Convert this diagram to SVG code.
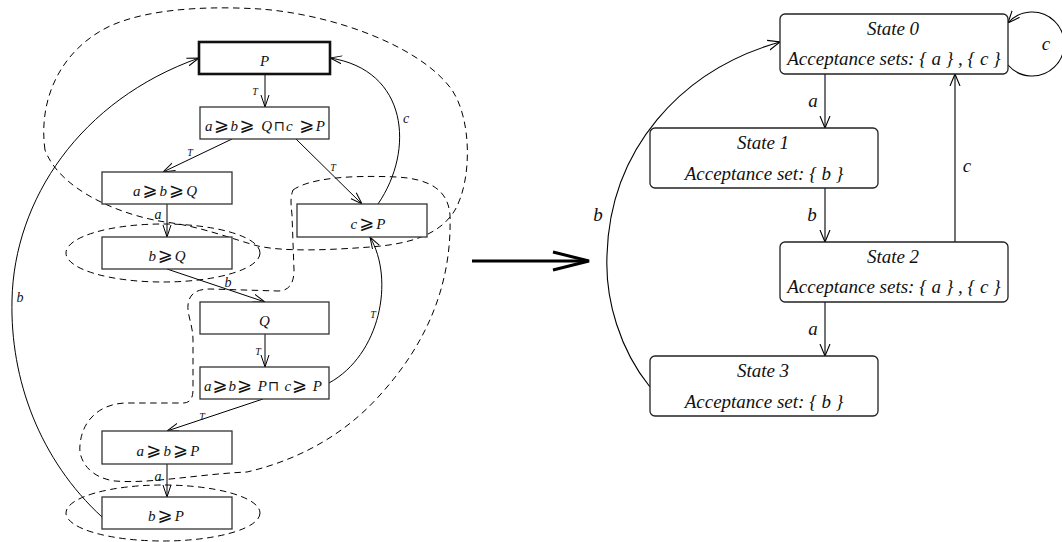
<svg xmlns="http://www.w3.org/2000/svg" width="1062" height="542" viewBox="0 0 1062 542">
<style>
  .bg{fill:#fff}
  .lbox{fill:#fff;stroke:#333;stroke-width:1.3}
  .lbox.start{stroke:#111;stroke-width:2.6}
  .rbox{fill:#fff;stroke:#222;stroke-width:1.3}
  .t{font-family:"Liberation Serif","Times New Roman",serif;font-style:italic;fill:#111}
  .nt{font-size:15px;text-anchor:middle}
  .op{font-family:"DejaVu Sans",sans-serif;font-style:normal;font-size:18px}
  .cap{font-family:"DejaVu Sans",sans-serif;font-style:normal;font-size:14px}
  .lab{font-size:14px;text-anchor:middle}
  .tl{font-size:10px;text-anchor:middle}
  .rt{font-size:19px;text-anchor:middle}
  .edge{fill:none;stroke:#000;stroke-width:1;marker-end:url(#arr)}
  .redge{fill:none;stroke:#000;stroke-width:1.1;marker-end:url(#arrR)}
  .dash{fill:none;stroke:#000;stroke-width:1;stroke-dasharray:6.5 4.5}
</style>
<defs>
  <marker id="arr" viewBox="0 0 12 10" refX="12" refY="5" markerWidth="12" markerHeight="10" markerUnits="userSpaceOnUse" orient="auto">
    <path d="M0,1 L12,5 L0,9" fill="none" stroke="#000" stroke-width="1"/>
  </marker>
  <marker id="arrR" viewBox="0 0 12 12" refX="12" refY="6" markerWidth="12" markerHeight="12" markerUnits="userSpaceOnUse" orient="auto">
    <path d="M0,1 L12,6 L0,11" fill="none" stroke="#000" stroke-width="1.1"/>
  </marker>
</defs>
<rect class="bg" x="0" y="0" width="1062" height="542"/>

<!-- dashed regions -->
<g id="regions">
  <path class="dash" d="M45,150 C38,100 60,50 110,26 C150,8 210,6 260,9 C330,14 420,45 452,90 C472,120 472,180 455,210 C440,235 410,244 370,247 C330,250 285,252 258,246 C235,240 200,226 165,222 C120,215 60,190 45,150 Z"/>
  <path class="dash" d="M293,190 C310,178 350,175 397,177 C430,179 448,190 450,215 C452,280 430,340 380,395 C340,440 290,462 247,472 C200,474 150,484 115,481 C90,478 78,460 80,445 C82,420 100,404 125,403 L183,403 C190,403 193,398 193,390 L193,340 C193,325 187,315 188,305 C189,295 195,289 210,289 L278,291 C290,291 294,282 294,270 L292,215 C291,205 290,198 293,190 Z"/>
  <ellipse class="dash" cx="163" cy="253" rx="97" ry="29"/>
  <ellipse class="dash" cx="163" cy="513" rx="97" ry="28"/>
</g>

<!-- left connectors -->
<g id="left-connectors">
  <path class="edge" d="M265,74 L265,107"/>
  <path class="edge" d="M232,139 L163,172"/>
  <path class="edge" d="M296,139 L362,204"/>
  <path class="edge" d="M378,204 C415,150 408,70 330,58"/>
  <path class="edge" d="M167,204 L167,237"/>
  <path class="edge" d="M167,269 L265,302"/>
  <path class="edge" d="M265,334 L265,367"/>
  <path class="edge" d="M329,383 C380,355 395,280 370,237"/>
  <path class="edge" d="M263,399 L167,431"/>
  <path class="edge" d="M167,464 L167,497"/>
  <path class="edge" d="M102,517 C40,460 10,380 12,300 C14,200 80,100 199,58"/>
  <text class="t tl" x="255" y="95">T</text>
  <text class="t tl" x="190" y="156">T</text>
  <text class="t tl" x="333" y="171">T</text>
  <text class="t lab" x="406" y="123">c</text>
  <text class="t lab" x="158" y="219">a</text>
  <text class="t lab" x="228" y="287">b</text>
  <text class="t tl" x="258" y="355">T</text>
  <text class="t tl" x="373" y="318">T</text>
  <text class="t tl" x="202" y="420">T</text>
  <text class="t lab" x="158" y="481">a</text>
  <text class="t lab" x="20" y="302">b</text>
</g>

<!-- left nodes -->
<g id="n-P"><rect class="lbox start" x="199" y="42" width="131" height="32"/><text class="t nt" x="264.5" y="66">P</text></g>
<g id="n-abQcP"><rect class="lbox" x="200" y="107" width="129" height="32"/><text class="t nt" x="265" y="131" textLength="120">a<tspan class="op">⩾</tspan>b<tspan class="op">⩾</tspan> Q<tspan class="cap">⊓</tspan>c <tspan class="op">⩾</tspan>P</text></g>
<g id="n-abQ"><rect class="lbox" x="102" y="172" width="130" height="32"/><text class="t nt" x="165" y="196" textLength="64">a<tspan class="op">⩾</tspan>b<tspan class="op">⩾</tspan>Q</text></g>
<g id="n-cP"><rect class="lbox" x="297" y="204" width="130" height="33"/><text class="t nt" x="368" y="229" textLength="35">c<tspan class="op">⩾</tspan>P</text></g>
<g id="n-bQ"><rect class="lbox" x="102" y="237" width="130" height="32"/><text class="t nt" x="167" y="261" textLength="37">b<tspan class="op">⩾</tspan>Q</text></g>
<g id="n-Q"><rect class="lbox" x="200" y="302" width="129" height="32"/><text class="t nt" x="264.5" y="326">Q</text></g>
<g id="n-abPcP"><rect class="lbox" x="200" y="367" width="129" height="32"/><text class="t nt" x="263" y="391" textLength="118">a<tspan class="op">⩾</tspan>b<tspan class="op">⩾</tspan> P<tspan class="cap">⊓</tspan> c<tspan class="op">⩾</tspan> P</text></g>
<g id="n-abP"><rect class="lbox" x="102" y="431" width="130" height="33"/><text class="t nt" x="168" y="456" textLength="63">a<tspan class="op">⩾</tspan>b<tspan class="op">⩾</tspan>P</text></g>
<g id="n-bP"><rect class="lbox" x="102" y="497" width="130" height="32"/><text class="t nt" x="166" y="521" textLength="36">b<tspan class="op">⩾</tspan>P</text></g>

<!-- big arrow -->
<g id="big-arrow" fill="none" stroke="#000" stroke-width="3">
  <path d="M472,261 L588,261"/>
  <path d="M553,252 L589,261 L553,270"/>
</g>

<!-- right connectors -->
<g id="right-connectors">
  <path class="redge" d="M825,74 L825,128"/>
  <path class="redge" d="M825,188 L825,242"/>
  <path class="redge" d="M825,302 L825,356"/>
  <path class="redge" d="M955,242 L955,74"/>
  <path class="redge" d="M650,387 C620,350 605,300 607,255 C610,150 680,70 780,42"/>
  <path class="redge" d="M1008,65 A32,32 0 1 0 1008,23"/>
  <text class="t rt" x="813" y="107">a</text>
  <text class="t rt" x="812" y="221">b</text>
  <text class="t rt" x="813" y="335">a</text>
  <text class="t rt" x="967" y="172">c</text>
  <text class="t rt" x="598" y="221">b</text>
  <text class="t rt" x="1046" y="50">c</text>
</g>

<!-- right nodes -->
<g id="state0"><rect class="rbox" x="780" y="14" width="228" height="60" rx="5"/><text class="t rt" x="893" y="35">State 0</text><text class="t rt" x="894" y="65">Acceptance sets: { a } , { c }</text></g>
<g id="state1"><rect class="rbox" x="650" y="128" width="228" height="60" rx="5"/><text class="t rt" x="763" y="149">State 1</text><text class="t rt" x="764" y="180">Acceptance set: { b }</text></g>
<g id="state2"><rect class="rbox" x="780" y="242" width="228" height="60" rx="5"/><text class="t rt" x="893" y="263">State 2</text><text class="t rt" x="894" y="293">Acceptance sets: { a } , { c }</text></g>
<g id="state3"><rect class="rbox" x="650" y="356" width="228" height="60" rx="5"/><text class="t rt" x="763" y="377">State 3</text><text class="t rt" x="764" y="408">Acceptance set: { b }</text></g>
</svg>
